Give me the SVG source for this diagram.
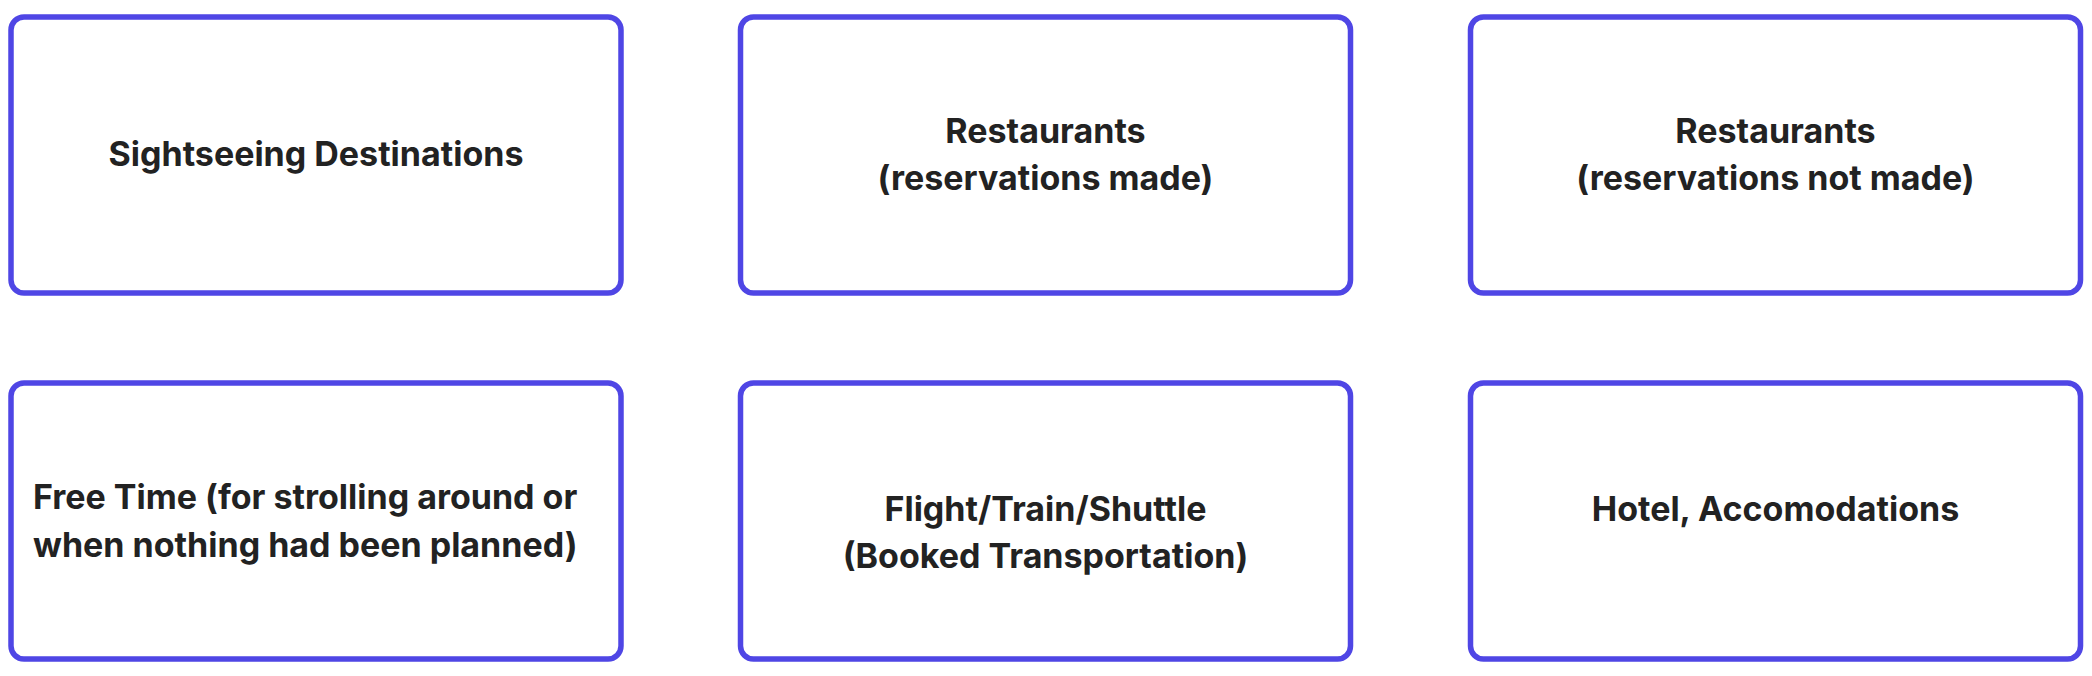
<svg xmlns="http://www.w3.org/2000/svg" width="2092" height="676" viewBox="0 0 2092 676">
<style>
.box{fill:#ffffff;stroke:#4f46e5;stroke-width:5.5}
.t{font-family:Inter,"Noto Sans","Liberation Sans",sans-serif;font-weight:700;font-size:34px;fill:#222222}
.c{text-anchor:middle}
</style>
<rect width="2092" height="676" fill="#ffffff"/>
<g id="connectors"/>
<g id="node-sightseeing">
<rect class="box" x="11" y="17" width="610" height="276" rx="13"/>
<text class="t c" x="316" y="166">Sightseeing Destinations</text>
</g>
<g id="node-restaurants-made">
<rect class="box" x="740.5" y="17" width="610" height="276" rx="13"/>
<text class="t c" x="1045.5" y="143">Restaurants</text>
<text class="t c" x="1045.5" y="190">(reservations made)</text>
</g>
<g id="node-restaurants-not-made">
<rect class="box" x="1470.5" y="17" width="610" height="276" rx="13"/>
<text class="t c" x="1775.5" y="143">Restaurants</text>
<text class="t c" x="1775.5" y="190">(reservations not made)</text>
</g>
<g id="node-free-time">
<rect class="box" x="11" y="383" width="610" height="276" rx="13"/>
<text class="t" x="33" y="509">Free Time (for strolling around or</text>
<text class="t" x="33" y="557">when nothing had been planned)</text>
</g>
<g id="node-transport">
<rect class="box" x="740.5" y="383" width="610" height="276" rx="13"/>
<text class="t c" x="1045.5" y="521">Flight/Train/Shuttle</text>
<text class="t c" x="1045.5" y="568">(Booked Transportation)</text>
</g>
<g id="node-hotel">
<rect class="box" x="1470.5" y="383" width="610" height="276" rx="13"/>
<text class="t c" x="1775.5" y="521">Hotel, Accomodations</text>
</g>
</svg>
